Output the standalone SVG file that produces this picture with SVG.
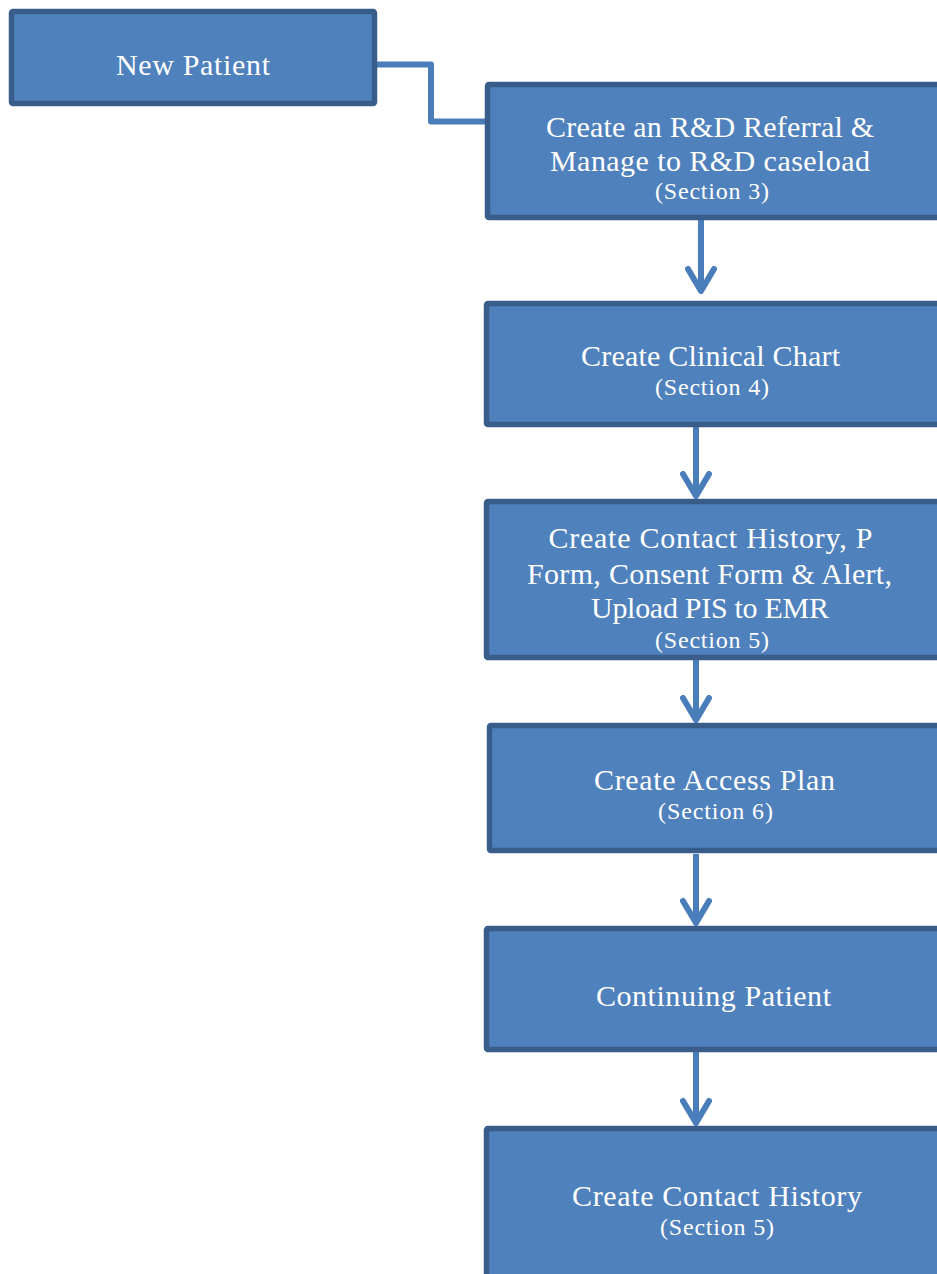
<svg xmlns="http://www.w3.org/2000/svg" width="937" height="1274" viewBox="0 0 937 1274">
<style>
.box{fill:#4F81BD;stroke:#385D8A;stroke-width:5.5}
.t{font-family:"Liberation Serif","Times New Roman",serif;fill:#FFFFFF;text-anchor:middle;font-size:30px}
.s{font-family:"Liberation Serif","Times New Roman",serif;fill:#FFFFFF;text-anchor:middle;font-size:24px}
.c{fill:none;stroke:#4A7EBB;stroke-width:6}
</style>
<defs>
<marker id="chev" markerUnits="userSpaceOnUse" viewBox="0 0 34 32" markerWidth="34" markerHeight="32" refX="28" refY="16" orient="auto" overflow="visible">
<path d="M6,3 L28,16 L6,29" fill="none" stroke="#4A7EBB" stroke-width="6" stroke-linecap="round" stroke-linejoin="round"/>
</marker>
</defs>
<rect width="937" height="1274" fill="#FFFFFF"/>
<g id="connectors">
<path class="c" d="M377,64.5 H431 V121.5 H486" stroke-linejoin="round"/>
<path class="c" d="M701,220 V291" marker-end="url(#chev)"/>
<path class="c" d="M696,427 V496" marker-end="url(#chev)"/>
<path class="c" d="M696,660 V720" marker-end="url(#chev)"/>
<path class="c" d="M696,854 V923" marker-end="url(#chev)"/>
<path class="c" d="M696,1052 V1123" marker-end="url(#chev)"/>
</g>
<g id="node-new-patient">
<rect class="box" x="11.5" y="11.5" width="363" height="92" rx="1.5"/>
<text class="t" x="193" y="75" textLength="154" lengthAdjust="spacing">New Patient</text>
</g>
<g id="node-referral">
<rect class="box" x="487.5" y="84.5" width="460" height="133" rx="1.5"/>
<text class="t" x="710" y="137" textLength="328" lengthAdjust="spacing">Create an R&amp;D Referral &amp;</text>
<text class="t" x="710" y="171" textLength="320" lengthAdjust="spacing">Manage to R&amp;D caseload</text>
<text class="s" x="712" y="199" textLength="114" lengthAdjust="spacing">(Section 3)</text>
</g>
<g id="node-clinical-chart">
<rect class="box" x="486.5" y="303.5" width="460" height="121" rx="1.5"/>
<text class="t" x="710.5" y="366" textLength="259" lengthAdjust="spacing">Create Clinical Chart</text>
<text class="s" x="712" y="395" textLength="114" lengthAdjust="spacing">(Section 4)</text>
</g>
<g id="node-contact-history-forms">
<rect class="box" x="486.5" y="501.5" width="460" height="156" rx="1.5"/>
<text class="t" x="710.5" y="548" textLength="324" lengthAdjust="spacing">Create Contact History, P</text>
<text class="t" x="709.5" y="584" textLength="365" lengthAdjust="spacing">Form, Consent Form &amp; Alert,</text>
<text class="t" x="710" y="618" textLength="238" lengthAdjust="spacing">Upload PIS to EMR</text>
<text class="s" x="712" y="648" textLength="114" lengthAdjust="spacing">(Section 5)</text>
</g>
<g id="node-access-plan">
<rect class="box" x="489.5" y="725.5" width="460" height="125" rx="1.5"/>
<text class="t" x="714.5" y="790" textLength="241" lengthAdjust="spacing">Create Access Plan</text>
<text class="s" x="715.5" y="819" textLength="115" lengthAdjust="spacing">(Section 6)</text>
</g>
<g id="node-continuing-patient">
<rect class="box" x="486.5" y="928.5" width="460" height="121" rx="1.5"/>
<text class="t" x="713.5" y="1006" textLength="235" lengthAdjust="spacing">Continuing Patient</text>
</g>
<g id="node-contact-history">
<rect class="box" x="486.5" y="1128.5" width="460" height="200" rx="1.5"/>
<text class="t" x="717" y="1206" textLength="290" lengthAdjust="spacing">Create Contact History</text>
<text class="s" x="717" y="1235" textLength="114" lengthAdjust="spacing">(Section 5)</text>
</g>
</svg>
